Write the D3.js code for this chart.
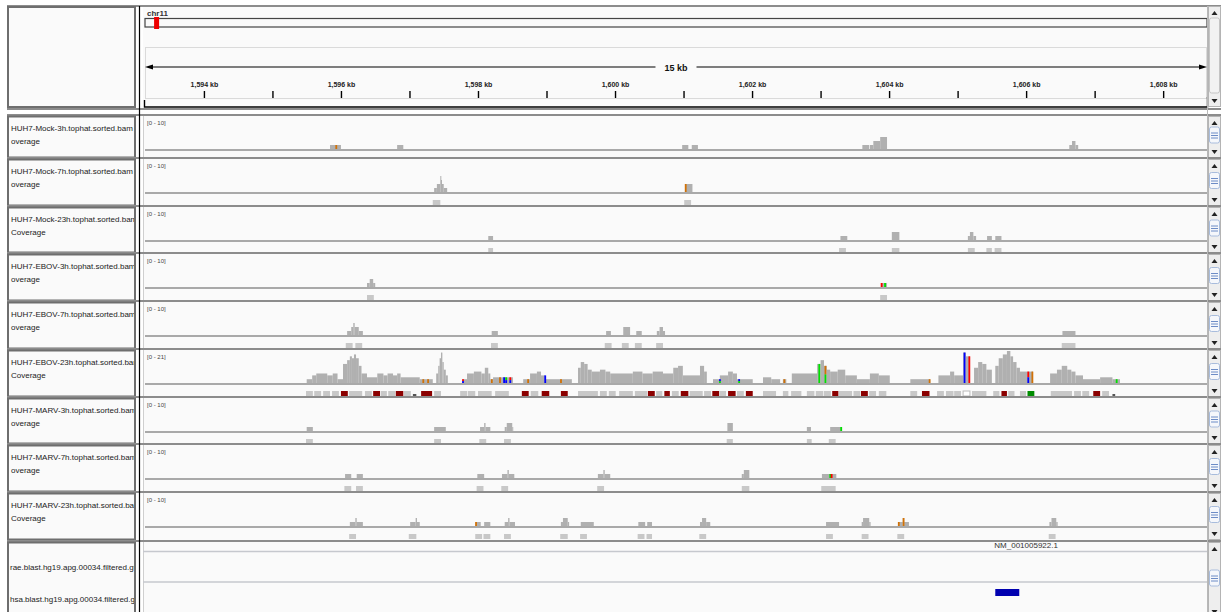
<!DOCTYPE html>
<html>
<head>
<meta charset="utf-8">
<title>chr11 coverage</title>
<script src="https://cdn.jsdelivr.net/npm/d3@7"></script>
<style>
  body { margin: 0; background: #ffffff; }
  svg { display: block; font-family: "Liberation Sans", Arial, Helvetica, sans-serif; }
</style>
</head>
<body>
<svg id="chart" width="1221" height="612"></svg>
<script>
// ---- values (positions in kb on chr11) ----
const chromName = "chr11";
const chromLengthKb = 135006.5;
const viewKb = [1593.14, 1608.64];
const spanLabel = "15 kb";
const rulerTicksKb = [1594, 1595, 1596, 1597, 1598, 1599, 1600, 1601, 1602, 1603, 1604, 1605, 1606, 1607, 1608];

const trackTitles = [
  "HUH7-Mock-3h.tophat.sorted.bam C", "HUH7-Mock-7h.tophat.sorted.bam C", "HUH7-Mock-23h.tophat.sorted.bam",
  "HUH7-EBOV-3h.tophat.sorted.bam C", "HUH7-EBOV-7h.tophat.sorted.bam C", "HUH7-EBOV-23h.tophat.sorted.bam",
  "HUH7-MARV-3h.tophat.sorted.bam C", "HUH7-MARV-7h.tophat.sorted.bam C", "HUH7-MARV-23h.tophat.sorted.bam"
];
const trackSubtitles = ["overage", "overage", "Coverage", "overage", "overage", "Coverage", "overage", "overage", "Coverage"];
const trackRanges = [10, 10, 10, 10, 10, 21, 10, 10, 10];

// coverage segments: [start kb, end kb, depth]
const covMock3h = [[1595.84, 1596.00, 1], [1596.82, 1596.91, 1], [1600.98, 1601.07, 1], [1601.12, 1601.21, 1],
  [1603.61, 1603.71, 1], [1603.72, 1603.77, 1], [1603.77, 1603.87, 2], [1603.87, 1603.97, 3],
  [1606.63, 1606.67, 1], [1606.67, 1606.72, 2], [1606.72, 1606.76, 1]];
const covMock7h = [[1597.36, 1597.40, 1], [1597.40, 1597.45, 2], [1597.45, 1597.46, 4], [1597.46, 1597.47, 3],
  [1597.47, 1597.50, 2], [1597.50, 1597.55, 1], [1601.03, 1601.13, 2]];
const covMock23h = [[1598.15, 1598.22, 1], [1603.29, 1603.39, 1], [1604.04, 1604.15, 2], [1605.15, 1605.18, 1],
  [1605.18, 1605.23, 2], [1605.23, 1605.27, 1], [1605.43, 1605.50, 1], [1605.55, 1605.64, 1]];
const covEbov3h = [[1596.38, 1596.42, 1], [1596.42, 1596.47, 2], [1596.47, 1596.50, 1], [1603.88, 1603.97, 1]];
const covEbov7h = [[1596.09, 1596.15, 1], [1596.15, 1596.18, 2], [1596.18, 1596.20, 3], [1596.20, 1596.26, 2],
  [1596.26, 1596.32, 1], [1598.20, 1598.29, 1], [1599.87, 1599.94, 1], [1600.12, 1600.22, 2], [1600.31, 1600.39, 1],
  [1600.61, 1600.65, 1], [1600.65, 1600.70, 2], [1600.70, 1600.73, 1], [1606.53, 1606.72, 1]];
const covEbov23h = [
  [1595.50, 1595.58, 2], [1595.58, 1595.64, 4], [1595.64, 1595.80, 5], [1595.80, 1595.88, 4], [1595.88, 1595.95, 5],
  [1595.95, 1596.03, 2], [1596.03, 1596.09, 10], [1596.09, 1596.13, 12], [1596.13, 1596.16, 14], [1596.16, 1596.19, 13],
  [1596.19, 1596.22, 15], [1596.22, 1596.26, 13], [1596.26, 1596.30, 9], [1596.30, 1596.38, 5], [1596.38, 1596.53, 3],
  [1596.53, 1596.62, 5], [1596.62, 1596.68, 4], [1596.68, 1596.76, 5], [1596.76, 1596.82, 4], [1596.82, 1596.87, 5],
  [1596.87, 1597.15, 3], [1597.15, 1597.34, 2], [1597.39, 1597.42, 5], [1597.42, 1597.44, 9], [1597.44, 1597.46, 13],
  [1597.46, 1597.48, 16], [1597.48, 1597.50, 11], [1597.50, 1597.53, 7], [1597.53, 1597.56, 4], [1597.77, 1597.84, 2],
  [1597.84, 1597.94, 5], [1597.94, 1598.05, 6], [1598.05, 1598.10, 5], [1598.10, 1598.15, 8], [1598.15, 1598.18, 5],
  [1598.18, 1598.22, 2], [1598.22, 1598.51, 3], [1598.66, 1598.76, 2], [1598.76, 1598.86, 5], [1598.86, 1598.92, 6],
  [1598.92, 1598.98, 4], [1598.98, 1599.37, 2], [1599.46, 1599.50, 8], [1599.50, 1599.55, 11], [1599.55, 1599.60, 10],
  [1599.60, 1599.66, 7], [1599.66, 1599.78, 6], [1599.78, 1599.86, 7], [1599.86, 1599.93, 6], [1599.93, 1600.26, 5],
  [1600.26, 1600.40, 6], [1600.40, 1600.55, 5], [1600.55, 1600.70, 6], [1600.70, 1600.85, 5], [1600.85, 1600.92, 8],
  [1600.92, 1600.99, 9], [1600.99, 1601.24, 4], [1601.24, 1601.30, 9], [1601.30, 1601.34, 6], [1601.43, 1601.53, 2],
  [1601.53, 1601.65, 4], [1601.65, 1601.72, 6], [1601.72, 1601.78, 5], [1601.78, 1602.01, 2], [1602.16, 1602.28, 3],
  [1602.28, 1602.41, 2], [1602.45, 1602.50, 2], [1602.58, 1602.95, 5], [1602.95, 1603.00, 10], [1603.00, 1603.05, 12],
  [1603.05, 1603.09, 9], [1603.09, 1603.14, 7], [1603.14, 1603.25, 6], [1603.25, 1603.36, 7], [1603.36, 1603.53, 4],
  [1603.53, 1603.72, 2], [1603.72, 1603.85, 5], [1603.85, 1604.01, 4], [1604.31, 1604.60, 2], [1604.72, 1604.89, 4],
  [1604.89, 1604.95, 6], [1604.95, 1605.08, 4], [1605.08, 1605.12, 16], [1605.12, 1605.18, 14], [1605.24, 1605.30, 8],
  [1605.30, 1605.36, 11], [1605.36, 1605.42, 10], [1605.42, 1605.50, 7], [1605.55, 1605.60, 9], [1605.60, 1605.66, 13],
  [1605.66, 1605.72, 15], [1605.72, 1605.77, 17], [1605.77, 1605.81, 14], [1605.81, 1605.86, 11], [1605.86, 1605.91, 8],
  [1605.91, 1606.10, 6], [1606.35, 1606.45, 5], [1606.45, 1606.52, 7], [1606.52, 1606.60, 9], [1606.60, 1606.66, 7],
  [1606.66, 1606.72, 6], [1606.72, 1606.83, 4], [1606.83, 1607.08, 2], [1607.08, 1607.26, 3], [1607.26, 1607.37, 2]
];
const covMarv3h = [[1595.50, 1595.59, 1], [1597.36, 1597.53, 1], [1598.03, 1598.09, 1], [1598.09, 1598.11, 2],
  [1598.11, 1598.18, 1], [1598.39, 1598.42, 1], [1598.42, 1598.50, 2], [1598.50, 1598.51, 1], [1601.64, 1601.72, 2],
  [1602.80, 1602.86, 1], [1603.14, 1603.31, 1]];
const covMarv7h = [[1596.06, 1596.15, 1], [1596.23, 1596.32, 1], [1597.99, 1598.09, 1], [1598.35, 1598.43, 1],
  [1598.43, 1598.45, 2], [1598.45, 1598.53, 1], [1599.75, 1599.83, 1], [1599.83, 1599.85, 2], [1599.85, 1599.93, 1],
  [1601.85, 1601.88, 1], [1601.88, 1601.96, 2], [1603.02, 1603.23, 1]];
const covMarv23h = [[1596.13, 1596.21, 1], [1596.21, 1596.23, 2], [1596.23, 1596.32, 1], [1597.01, 1597.09, 1],
  [1597.09, 1597.11, 2], [1597.11, 1597.15, 1], [1597.97, 1598.04, 1], [1598.09, 1598.18, 1], [1598.39, 1598.44, 1],
  [1598.44, 1598.46, 2], [1598.46, 1598.54, 1], [1599.21, 1599.24, 1], [1599.24, 1599.31, 2], [1599.31, 1599.33, 1],
  [1599.50, 1599.69, 1], [1600.34, 1600.44, 1], [1600.47, 1600.54, 1], [1601.24, 1601.27, 1], [1601.27, 1601.33, 2],
  [1601.33, 1601.39, 1], [1603.08, 1603.27, 1], [1603.60, 1603.62, 1], [1603.62, 1603.71, 2], [1603.71, 1603.73, 1],
  [1604.13, 1604.20, 1], [1604.20, 1604.22, 2], [1604.22, 1604.29, 1], [1606.34, 1606.37, 1], [1606.37, 1606.44, 2],
  [1606.44, 1606.46, 1]];

// squished alignment rows: [start kb, end kb, kind]  g=grey, r=dark red, n=green, w=open, k=small dark
const readsMock3h = [];
const readsMock7h = [[1597.34, 1597.45, "g"], [1601.01, 1601.11, "g"]];
const readsMock23h = [[1598.15, 1598.22, "g"], [1603.27, 1603.37, "g"], [1604.04, 1604.15, "g"], [1605.15, 1605.25, "g"],
  [1605.42, 1605.50, "g"], [1605.54, 1605.64, "g"]];
const readsEbov3h = [[1596.38, 1596.48, "g"], [1603.87, 1603.97, "g"]];
const readsEbov7h = [[1596.07, 1596.17, "g"], [1596.21, 1596.31, "g"], [1598.19, 1598.29, "g"], [1599.85, 1599.95, "g"],
  [1600.10, 1600.20, "g"], [1600.29, 1600.39, "g"], [1600.60, 1600.70, "g"], [1606.52, 1606.72, "g"]];
const readsEbov23h = [
  [1595.49, 1595.59, "g"], [1595.61, 1595.71, "g"], [1595.74, 1595.84, "g"], [1595.87, 1595.97, "g"], [1596.00, 1596.10, "r"],
  [1596.12, 1596.31, "g"], [1596.35, 1596.45, "g"], [1596.47, 1596.57, "r"], [1596.58, 1596.67, "g"], [1596.69, 1596.79, "g"],
  [1596.80, 1596.91, "r"], [1596.92, 1597.02, "g"], [1597.05, 1597.10, "k"], [1597.17, 1597.33, "r"], [1597.36, 1597.46, "g"],
  [1597.74, 1597.84, "g"], [1597.85, 1597.96, "g"], [1598.00, 1598.20, "g"], [1598.25, 1598.45, "g"], [1598.64, 1598.74, "r"],
  [1598.77, 1598.88, "g"], [1598.93, 1599.04, "r"], [1599.21, 1599.31, "r"], [1599.46, 1599.75, "g"], [1599.78, 1599.88, "g"],
  [1599.91, 1600.01, "g"], [1600.06, 1600.26, "g"], [1600.29, 1600.47, "g"], [1600.48, 1600.58, "r"], [1600.60, 1600.69, "g"],
  [1600.72, 1600.80, "r"], [1600.83, 1600.93, "g"], [1600.96, 1601.07, "r"], [1601.09, 1601.28, "g"], [1601.30, 1601.40, "g"],
  [1601.42, 1601.52, "r"], [1601.53, 1601.62, "g"], [1601.65, 1601.76, "r"], [1601.78, 1601.88, "g"], [1601.91, 1602.01, "r"],
  [1602.16, 1602.35, "g"], [1602.45, 1602.53, "g"], [1602.57, 1602.72, "g"], [1602.80, 1602.91, "g"], [1602.93, 1603.04, "g"],
  [1603.05, 1603.15, "g"], [1603.17, 1603.26, "r"], [1603.27, 1603.46, "g"], [1603.48, 1603.58, "g"], [1603.59, 1603.69, "r"],
  [1603.71, 1603.81, "g"], [1603.85, 1603.96, "g"], [1604.31, 1604.41, "g"], [1604.48, 1604.59, "r"], [1604.70, 1604.80, "g"],
  [1604.83, 1604.94, "g"], [1604.95, 1605.05, "g"], [1605.08, 1605.18, "w"], [1605.21, 1605.42, "g"], [1605.52, 1605.61, "g"],
  [1605.64, 1605.72, "r"], [1605.74, 1605.83, "g"], [1605.91, 1606.00, "g"], [1606.02, 1606.12, "n"], [1606.36, 1606.67, "g"],
  [1606.70, 1606.80, "g"], [1606.82, 1606.92, "g"], [1606.98, 1607.08, "r"], [1607.11, 1607.21, "g"], [1607.26, 1607.30, "k"]
];
const readsMarv3h = [[1595.49, 1595.59, "g"], [1597.36, 1597.46, "g"], [1598.02, 1598.12, "g"], [1598.38, 1598.48, "g"],
  [1601.63, 1601.72, "g"], [1602.80, 1602.87, "g"], [1603.12, 1603.22, "g"]];
const readsMarv7h = [[1596.05, 1596.15, "g"], [1596.22, 1596.32, "g"], [1597.98, 1598.08, "g"], [1598.34, 1598.44, "g"],
  [1599.74, 1599.84, "g"], [1601.85, 1601.96, "g"], [1603.01, 1603.22, "g"]];
const readsMarv23h = [[1596.12, 1596.22, "g"], [1596.99, 1597.10, "g"], [1597.96, 1598.06, "g"], [1598.08, 1598.18, "g"],
  [1598.38, 1598.48, "g"], [1599.20, 1599.31, "g"], [1599.49, 1599.59, "g"], [1600.33, 1600.43, "g"], [1600.46, 1600.54, "g"],
  [1601.23, 1601.33, "g"], [1603.08, 1603.18, "g"], [1603.60, 1603.70, "g"], [1604.12, 1604.22, "g"], [1606.33, 1606.43, "g"]];

// mismatching bases shown on the coverage: [kb, base on top, base below]
const mmMock3h = [[1595.93, "G"]];
const mmMock7h = [[1601.03, "G"]];
const mmMock23h = [];
const mmEbov3h = [[1603.89, "T"], [1603.94, "A"]];
const mmEbov7h = [];
const mmEbov23h = [[1597.20, "G"], [1597.27, "G"], [1597.78, "T", "C"], [1598.20, "G"], [1598.32, "G"], [1598.38, "C"],
  [1598.41, "A", "C"], [1598.47, "T", "C"], [1598.73, "G"], [1598.98, "C"], [1599.21, "G"], [1601.53, "C", "A"],
  [1601.81, "C", "A"], [1602.47, "G"], [1602.98, "A"], [1603.07, "G", "A"], [1604.59, "G"], [1605.10, "C"],
  [1605.17, "T"], [1606.03, "T", "C"], [1606.09, "G"], [1607.32, "A"]];
const mmMarv3h = [[1603.30, "A"]];
const mmMarv7h = [[1603.14, "A"], [1603.16, "T"]];
const mmMarv23h = [[1597.97, "G"], [1604.14, "G"], [1604.21, "G"]];

// feature panel
const geneLabel = "NM_001005922.1";
const geneLabelKb = 1606.00;
const featureTrackNames = ["rae.blast.hg19.apg.00034.filtered.gtf", "hsa.blast.hg19.apg.00034.filtered.gtf"];
const hsaFeatureKb = [1605.55, 1605.90];

// tables built from the arrays above
const trackCoverage = [covMock3h, covMock7h, covMock23h, covEbov3h, covEbov7h, covEbov23h, covMarv3h, covMarv7h, covMarv23h];
const trackReads = [readsMock3h, readsMock7h, readsMock23h, readsEbov3h, readsEbov7h, readsEbov23h, readsMarv3h, readsMarv7h, readsMarv23h];
const trackMismatch = [mmMock3h, mmMock7h, mmMock23h, mmEbov3h, mmEbov7h, mmEbov23h, mmMarv3h, mmMarv7h, mmMarv23h];

// ---- layout ----
const svg = d3.select("#chart");
const W = 1221, H = 612;
const dataLeft = 145, dataRight = 1207;
const panelTops = [116, 159, 207, 254, 302, 350, 398, 445, 493];
const featureTop = 541;
const covHeight = 40;   // pixel height of the data range

const baseColors = { A: "#00e000", C: "#0000ff", G: "#d17105", T: "#ff0000" };
const readColors = { g: "#c8c8c8", r: "#8b0000", n: "#008c00", w: "#ffffff", k: "#555555" };

const x = d3.scaleLinear().domain(viewKb).range([dataLeft, dataRight]);

svg.append("rect").attr("width", W).attr("height", H).attr("fill", "#ffffff");

const defs = svg.append("defs");
defs.append("clipPath").attr("id", "nameClip")
  .append("rect").attr("x", 9).attr("y", 0).attr("width", 125).attr("height", H);

// scrollbar on the right side of every panel
function scrollbar(y0, y1, big) {
  const g = svg.append("g");
  g.append("rect").attr("x", 1208.5).attr("y", y0 + 0.5).attr("width", 12).attr("height", y1 - y0 - 1)
    .attr("fill", "#eeeeee").attr("stroke", "#b4b4b4");
  g.append("path").attr("d", `M1211.5,${y0 + 9}L1217.5,${y0 + 9}L1214.5,${y0 + 5}Z`).attr("fill", "#222");
  g.append("path").attr("d", `M1211.5,${y1 - 8}L1217.5,${y1 - 8}L1214.5,${y1 - 4}Z`).attr("fill", "#222");
  if (big) {
    g.append("rect").attr("x", 1209.5).attr("y", y0 + 12).attr("width", 10).attr("height", y1 - y0 - 26)
      .attr("rx", 2).attr("fill", "#f2f2f2").attr("stroke", "#c4c4c4");
  } else {
    const cy = (y0 + y1) / 2 - 2;
    g.append("rect").attr("x", 1209.5).attr("y", cy - 8).attr("width", 10).attr("height", 16)
      .attr("rx", 2).attr("fill", "#f5f7fb").attr("stroke", "#a8bcdc");
    [-2, 0.5, 3].forEach(d => g.append("line").attr("x1", 1211).attr("x2", 1218)
      .attr("y1", cy + d).attr("y2", cy + d).attr("stroke", "#6d8cc6").attr("stroke-width", 1));
  }
}

// ---- header (chromosome ideogram + ruler) ----
svg.append("line").attr("x1", 7).attr("x2", W).attr("y1", 6).attr("y2", 6).attr("stroke", "#8c8c8c").attr("stroke-width", 2);
svg.append("rect").attr("x", 8).attr("y", 7).attr("width", 127).attr("height", 100)
  .attr("fill", "#fafafa").attr("stroke", "#6e6e6e").attr("stroke-width", 2);
svg.append("rect").attr("x", 143).attr("y", 7).attr("width", dataRight - 143).attr("height", 100).attr("fill", "#fafafa");

svg.append("text").attr("x", 147).attr("y", 15.5).attr("font-size", 8).attr("font-weight", "bold")
  .attr("fill", "#333").text(chromName);

svg.append("rect").attr("x", dataLeft).attr("y", 18.5).attr("width", dataRight - dataLeft).attr("height", 8.5)
  .attr("fill", "#fafafa").attr("stroke", "#444").attr("stroke-width", 1.2);
const ideo = d3.scaleLinear().domain([0, chromLengthKb]).range([dataLeft, dataRight]);
const markCenter = ideo((viewKb[0] + viewKb[1]) / 2) - 1;
svg.append("rect").attr("x", markCenter - 2.5).attr("y", 17).attr("width", 5).attr("height", 12).attr("fill", "#ee0000");

svg.append("rect").attr("x", dataLeft + 0.5).attr("y", 47.5).attr("width", dataRight - dataLeft - 1).attr("height", 51)
  .attr("fill", "none").attr("stroke", "#dadada");

// span arrow
const mid = (dataLeft + dataRight) / 2;
const spanText = svg.append("text").attr("x", mid).attr("y", 70.5).attr("text-anchor", "middle")
  .attr("font-size", 9).attr("font-weight", "bold").attr("fill", "#111").text(spanLabel);
const half = spanText.node().getComputedTextLength() / 2 + 9;
svg.append("line").attr("x1", dataLeft + 4).attr("x2", mid - half).attr("y1", 67).attr("y2", 67).attr("stroke", "#000");
svg.append("line").attr("x1", mid + half).attr("x2", dataRight - 4).attr("y1", 67).attr("y2", 67).attr("stroke", "#000");
svg.append("path").attr("d", `M${dataLeft},67L${dataLeft + 8},64.5L${dataLeft + 8},69.5Z`).attr("fill", "#000");
svg.append("path").attr("d", `M${dataRight},67L${dataRight - 8},64.5L${dataRight - 8},69.5Z`).attr("fill", "#000");

const ruler = svg.append("g").attr("transform", "translate(0,98)")
  .call(d3.axisTop(x).tickValues(rulerTicksKb).tickSize(7).tickPadding(4)
    .tickFormat(d => d % 2 === 0 ? d3.format(",")(d) + " kb" : ""));
ruler.select(".domain").remove();
ruler.selectAll(".tick line").attr("stroke", "#000").attr("stroke-width", 1.4);
ruler.selectAll(".tick text").attr("font-size", 7).attr("font-weight", "bold").attr("fill", "#222")
  .attr("font-family", "'Liberation Sans', Arial, sans-serif");

svg.append("path").attr("d", `M144.5,100V107H${dataRight + 0.5}V97`).attr("fill", "none")
  .attr("stroke", "#000").attr("stroke-width", 1.4);
scrollbar(6, 107, true);

svg.append("line").attr("x1", 7).attr("x2", W).attr("y1", 109).attr("y2", 109).attr("stroke", "#8c8c8c").attr("stroke-width", 2);

// ---- coverage panels ----
trackCoverage.forEach((cov, i) => {
  const T = panelTops[i];
  const B = (i < panelTops.length - 1 ? panelTops[i + 1] : featureTop) - 2;
  const base = T + 33;
  const y = d3.scaleLinear().domain([0, trackRanges[i]]).range([base, base - covHeight]);

  svg.append("line").attr("x1", 7).attr("x2", W).attr("y1", T - 1).attr("y2", T - 1)
    .attr("stroke", "#8c8c8c").attr("stroke-width", 2);
  svg.append("rect").attr("x", 8).attr("y", T + 0.5).attr("width", 127).attr("height", B - T)
    .attr("fill", "#fafafa").attr("stroke", "#6e6e6e").attr("stroke-width", 2);
  svg.append("rect").attr("x", 143).attr("y", T).attr("width", dataRight - 143).attr("height", B - T + 1)
    .attr("fill", "#fafafa");
  svg.append("line").attr("x1", 143.5).attr("x2", 143.5).attr("y1", T).attr("y2", B + 1).attr("stroke", "#cfcfcf");

  const names = svg.append("g").attr("clip-path", "url(#nameClip)")
    .attr("font-size", 8).attr("fill", "#222");
  names.append("text").attr("x", 11).attr("y", T + 14.5).text(trackTitles[i]);
  names.append("text").attr("x", 11).attr("y", T + 27.5).text(trackSubtitles[i]);

  defs.append("clipPath").attr("id", "clip" + i)
    .append("rect").attr("x", dataLeft).attr("y", T + 1).attr("width", dataRight - dataLeft).attr("height", B - T);
  const g = svg.append("g").attr("clip-path", `url(#clip${i})`);

  g.append("text").attr("x", 147).attr("y", T + 9).attr("font-size", 6).attr("fill", "#444")
    .text(`[0 - ${trackRanges[i]}]`);

  g.append("line").attr("x1", dataLeft).attr("x2", dataRight).attr("y1", base + 1).attr("y2", base + 1)
    .attr("stroke", "#a9a9a9").attr("stroke-width", 2);
  g.append("line").attr("x1", dataLeft).attr("x2", dataRight).attr("y1", base + 14.5).attr("y2", base + 14.5)
    .attr("stroke", "#e2e2e2").attr("stroke-width", 1);

  g.selectAll(".cov").data(cov).enter().append("rect")
    .attr("x", d => x(d[0]))
    .attr("width", d => Math.max(1, x(d[1]) - x(d[0])))
    .attr("y", d => y(d[2]))
    .attr("height", d => base - y(d[2]))
    .attr("fill", "#b0b0b0");

  const depthAt = kb => {
    const s = cov.find(d => kb >= d[0] - 0.005 && kb <= d[1] + 0.005);
    return s ? s[2] : 1;
  };
  trackMismatch[i].forEach(m => {
    const top = y(depthAt(m[0]));
    const h = base - top;
    if (m.length > 2) {
      g.append("rect").attr("x", x(m[0]) - 0.8).attr("width", 1.8).attr("y", top).attr("height", h / 2)
        .attr("fill", baseColors[m[1]]);
      g.append("rect").attr("x", x(m[0]) - 0.8).attr("width", 1.8).attr("y", top + h / 2).attr("height", h / 2)
        .attr("fill", baseColors[m[2]]);
    } else {
      g.append("rect").attr("x", x(m[0]) - 0.8).attr("width", 1.8).attr("y", top).attr("height", h)
        .attr("fill", baseColors[m[1]]);
    }
  });

  g.selectAll(".read").data(trackReads[i]).enter().append("rect")
    .attr("x", d => x(d[0]))
    .attr("width", d => Math.max(1, x(d[1]) - x(d[0])))
    .attr("y", d => d[2] === "k" ? base + 11 : base + 8)
    .attr("height", d => d[2] === "k" ? 2 : 5)
    .attr("fill", d => readColors[d[2]])
    .attr("stroke", d => d[2] === "w" ? "#bbbbbb" : "none");

  scrollbar(T, B + 1, false);
});

// ---- feature panel ----
{
  const T = featureTop + 1;
  svg.append("line").attr("x1", 7).attr("x2", W).attr("y1", featureTop).attr("y2", featureTop)
    .attr("stroke", "#8c8c8c").attr("stroke-width", 2);
  svg.append("rect").attr("x", 8).attr("y", T + 0.5).attr("width", 127).attr("height", H - T + 5)
    .attr("fill", "#fafafa").attr("stroke", "#6e6e6e").attr("stroke-width", 2);
  svg.append("rect").attr("x", 143).attr("y", T).attr("width", dataRight - 143).attr("height", H - T)
    .attr("fill", "#fafafa");
  svg.append("line").attr("x1", 143.5).attr("x2", 143.5).attr("y1", T).attr("y2", H).attr("stroke", "#cfcfcf");

  [551.5, 582].forEach(yy => svg.append("line").attr("x1", 143).attr("x2", dataRight).attr("y1", yy).attr("y2", yy)
    .attr("stroke", "#c6c8ce").attr("stroke-width", 1.5));
  svg.append("text").attr("x", x(geneLabelKb)).attr("y", 548).attr("text-anchor", "middle")
    .attr("font-size", 8).attr("fill", "#333").text(geneLabel);

  const names = svg.append("g").attr("clip-path", "url(#nameClip)").attr("font-size", 8).attr("fill", "#222");
  names.append("text").attr("x", 10).attr("y", 570).text(featureTrackNames[0]);
  names.append("text").attr("x", 10).attr("y", 602).text(featureTrackNames[1]);

  svg.append("rect").attr("x", x(hsaFeatureKb[0])).attr("width", x(hsaFeatureKb[1]) - x(hsaFeatureKb[0]))
    .attr("y", 589).attr("height", 7).attr("fill", "#0000b0");

  scrollbar(T, H + 6, false);
}

// vertical separators between name panel and data panel
svg.append("line").attr("x1", 139.5).attr("x2", 139.5).attr("y1", 6).attr("y2", H).attr("stroke", "#000").attr("stroke-width", 1.2);
svg.append("line").attr("x1", dataRight + 0.5).attr("x2", dataRight + 0.5).attr("y1", 6).attr("y2", H).attr("stroke", "#b8b8b8");
</script>
</body>
</html>
